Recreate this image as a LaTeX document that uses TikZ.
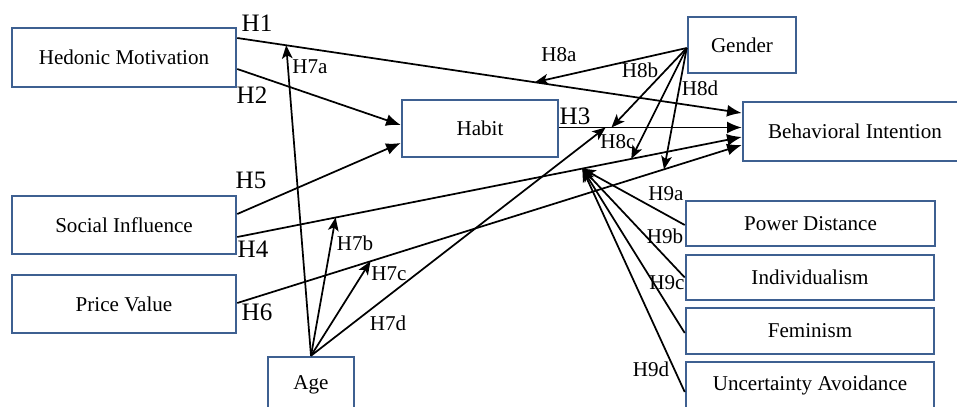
\documentclass[tikz,border=0pt]{standalone}
\usepackage{fontspec}
\setmainfont{Liberation Serif}
\usetikzlibrary{arrows.meta,calc}
\definecolor{boxblue}{RGB}{62,96,145}
\newcommand\dgmboxfont{\fontsize{15.8}{18}\selectfont}
\newcommand\dgmbigfont{\fontsize{18.8}{20}\selectfont}
\begin{document}
\begin{tikzpicture}[x=0.75pt,y=-0.75pt,
  box/.style 2 args={draw=boxblue,line width=1.9pt,inner sep=0pt,
    minimum width=#1*0.75pt,minimum height=#2*0.75pt,font=\dgmboxfont},
  lblbig/.style={inner sep=0pt,font=\dgmbigfont},
  lblsmall/.style={inner sep=0pt,font=\dgmboxfont},
  mainarr/.style={line width=1.3pt,-{Latex[length=11pt,width=9pt]}},
  modarr/.style={line width=1.3pt,-{Stealth[length=10pt,width=8pt,inset=2.5pt]}},
  plain/.style={line width=1.3pt}]
\useasboundingbox (0,0) rectangle (957,407);
\clip (0,0) rectangle (957,407);

% boxes
\node[box={224}{59}] (hm) at (124,57.5) {Hedonic Motivation};
\node[box={224}{58}] (si) at (124,225) {Social Influence};
\node[box={224}{58}] (pv) at (124,304) {Price Value};
\node[box={86}{56}] (age) at (311,385) {Age};
\node[box={156}{57}] (habit) at (480,128.5) {Habit};
\node[box={108}{56}] (gender) at (742,45) {Gender};
\node[box={224}{59}] (bi) at (855,131.5) {Behavioral Intention};
\node[box={249}{45}] (pd) at (810.5,223.5) {Power Distance};
\node[box={248}{45}] (ind) at (810,277.5) {Individualism};
\node[box={248}{46}] (fem) at (810,331) {Feminism};
\node[box={248}{46}] (ua) at (810,385) {Uncertainty Avoidance};

% end points of the main paths
\coordinate (h1s) at ($(hm.east)+(0,-19.5)$);
\coordinate (h1e) at ($(bi.west)+(0,-18.5)$);
\coordinate (h2s) at ($(hm.east)+(0,11.5)$);
\coordinate (h2e) at ($(habit.west)+(0,-3.5)$);
\coordinate (h5s) at ($(si.east)+(0,-11)$);
\coordinate (h5e) at ($(habit.west)+(0,14.5)$);
\coordinate (h4s) at ($(si.east)+(0,12)$);
\coordinate (h4e) at ($(bi.west)+(0,5.5)$);
\coordinate (h6s) at ($(pv.east)+(0,-1)$);
\coordinate (h6e) at ($(bi.west)+(0,13.5)$);
\coordinate (h3s) at ($(habit.east)+(0,-1)$);
\coordinate (h3e) at ($(bi.west)+(0,-4)$);

% main paths
\draw[mainarr] (h1s) -- (h1e);
\draw[mainarr] (h2s) -- (h2e);
\draw[mainarr] (h5s) -- (h5e);
\draw[mainarr] (h4s) -- (h4e);
\draw[mainarr] (h6s) -- (h6e);
\draw[mainarr] (h3s) -- (h3e);

% moderator targets
\coordinate (t7a) at ($(h1s)!0.097!(h1e)$);
\coordinate (t7b) at ($(h4s)!0.195!(h4e)$);
\coordinate (t7c) at ($(h6s)!0.264!(h6e)$);
\coordinate (t7d) at ($(h3s)!0.254!(h3e)$);
\coordinate (t8a) at ($(h1s)!0.59!(h1e)$);
\coordinate (t8b) at ($(h3s)!0.286!(h3e)$);
\coordinate (t8c) at ($(h4s)!0.781!(h4e)$);
\coordinate (t8d) at ($(h6s)!0.846!(h6e)$);
\coordinate (t9) at ($(h4s)!0.684!(h4e)$);

% Age
\draw[modarr] (age.north) -- (t7a);
\draw[modarr] (age.north) -- (t7b);
\draw[modarr] (age.north) -- (t7c);
\draw[modarr] (age.north) -- (t7d);

% Gender
\coordinate (gs) at ($(gender.west)+(0,3)$);
\draw[modarr] (gs) -- (t8a);
\draw[modarr] (gs) -- (t8b);
\draw[modarr] (gs) -- (t8c);
\draw[modarr] (gs) -- (t8d);

% culture
\draw[modarr] ($(pd.west)+(0,1.5)$) -- (t9);
\draw[modarr] (ind.west) -- (t9);
\draw[modarr] ($(fem.west)+(0,2)$) -- (t9);
\draw[modarr] ($(ua.west)+(0,7)$) -- (t9);

% labels
\node[lblbig] (lh1) at (257,23) {H1};
\node[lblbig] (lh2) at (252,95) {H2};
\node[lblbig] (lh5) at (251,180) {H5};
\node[lblbig] (lh4) at (253,249) {H4};
\node[lblbig] (lh6) at (257,312) {H6};
\node[lblbig] (lh3) at (575,116) {H3};
\node[lblsmall] (l7a) at (310,67) {H7a};
\node[lblsmall] (l7b) at (355,243) {H7b};
\node[lblsmall] (l7c) at (389,274) {H7c};
\node[lblsmall] (l7d) at (388,323) {H7d};
\node[lblsmall] (l8a) at (559,55) {H8a};
\node[lblsmall] (l8b) at (640,70) {H8b};
\node[lblsmall] (l8c) at (618,142) {H8c};
\node[lblsmall] (l8d) at (700,88) {H8d};
\node[lblsmall] (l9a) at (666,194) {H9a};
\node[lblsmall] (l9b) at (665,236) {H9b};
\node[lblsmall] (l9c) at (667,283) {H9c};
\node[lblsmall] (l9d) at (651,369) {H9d};
\end{tikzpicture}
\end{document}
